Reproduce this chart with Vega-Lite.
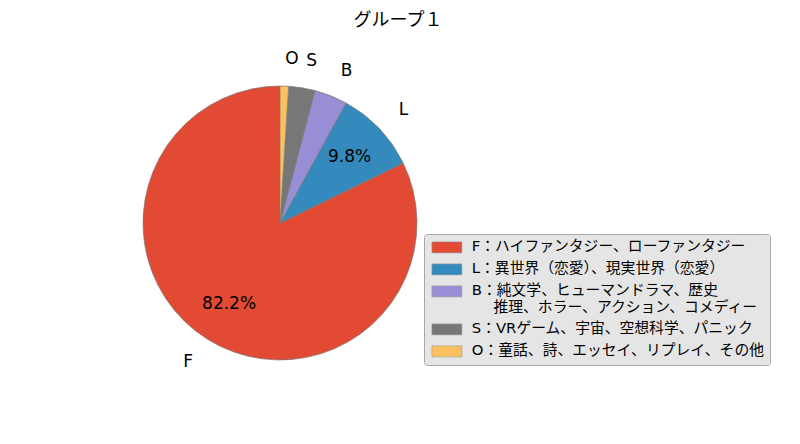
{
  "$schema": "https://vega.github.io/schema/vega-lite/v6.json",
  "background": "white",
  "padding": {"top": 12, "left": 0, "right": 0, "bottom": 0},
  "width": 560,
  "height": 370,
  "title": {
    "text": "グループ１",
    "fontSize": 18,
    "fontWeight": "normal",
    "font": "DejaVu Sans, Noto Sans CJK JP",
    "color": "black",
    "anchor": "middle",
    "dx": 118,
    "offset": 8
  },
  "data": {
    "values": [
      {"key": "F", "label": "F：ハイファンタジー、ローファンタジー", "share": 0.822},
      {"key": "L", "label": "L：異世界（恋愛）、現実世界（恋愛）", "share": 0.098},
      {"key": "B", "label": "B：純文学、ヒューマンドラマ、歴史\n\u2800\u2800推理、ホラー、アクション、コメディー", "share": 0.039},
      {"key": "S", "label": "S：VRゲーム、宇宙、空想科学、パニック", "share": 0.031},
      {"key": "O", "label": "O：童話、詩、エッセイ、リプレイ、その他", "share": 0.010}
    ]
  },
  "encoding": {
    "theta": {"field": "share", "type": "quantitative", "stack": true},
    "order": {"field": "share", "type": "quantitative", "sort": "ascending"}
  },
  "layer": [
    {
      "mark": {"type": "arc", "outerRadius": 137, "stroke": "#7a7a7a", "strokeWidth": 0.7},
      "encoding": {
        "color": {
          "field": "label",
          "type": "nominal",
          "sort": {"field": "share", "order": "descending"},
          "scale": {"range": ["#E24A33", "#348ABD", "#988ED5", "#777777", "#FBC15E"]},
          "legend": {
            "title": null,
            "orient": "none",
            "legendX": 424,
            "legendY": 196,
            "padding": 6,
            "fillColor": "#e5e5e5",
            "strokeColor": "#a8a8a8",
            "cornerRadius": 3,
            "symbolType": "M-1,-1H4.45V1H-1Z",
            "symbolSize": 121,
            "symbolStrokeColor": "#9a9a9a",
            "symbolStrokeWidth": 0.6,
            "symbolOpacity": 1,
            "labelOffset": 27,
            "labelFontSize": 14.8,
            "labelFont": "DejaVu Sans, Noto Sans CJK JP",
            "labelColor": "black",
            "labelLimit": 400,
            "rowPadding": 6,
            "labelExpr": "split(datum.label, '\\n')"
          }
        }
      }
    },
    {
      "mark": {"type": "text", "radius": 164, "align": "left", "baseline": "middle", "fontSize": 17, "font": "DejaVu Sans"},
      "encoding": {
        "text": {"condition": {"test": "datum.key === 'F'", "value": ""}, "field": "key"}
      }
    },
    {
      "mark": {"type": "text", "radius": 164, "align": "right", "baseline": "middle", "fontSize": 17, "font": "DejaVu Sans"},
      "encoding": {
        "text": {"condition": {"test": "datum.key !== 'F'", "value": ""}, "field": "key"}
      }
    },
    {
      "mark": {"type": "text", "radius": 96, "align": "center", "baseline": "middle", "fontSize": 17, "font": "DejaVu Sans"},
      "encoding": {
        "text": {"condition": {"test": "datum.share < 0.05", "value": ""}, "field": "share", "type": "quantitative", "format": ".1%"}
      }
    }
  ],
  "config": {"view": {"stroke": null}}
}
